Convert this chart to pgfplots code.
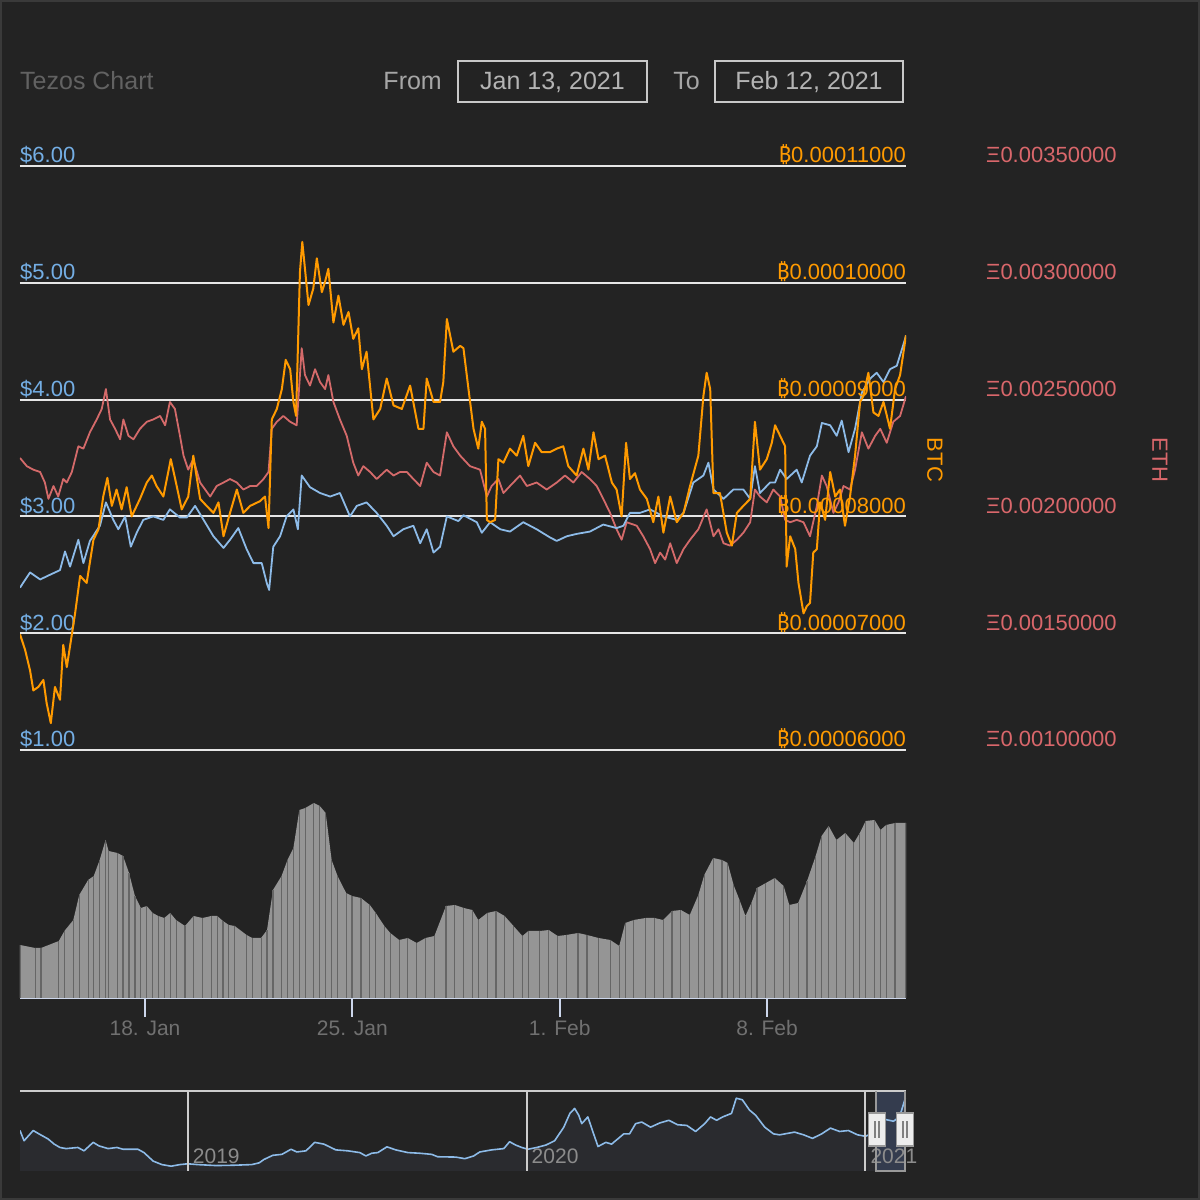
\documentclass[border=0pt]{standalone}
\usepackage{pgfplots}
\pgfplotsset{compat=1.18}
\usepackage{pgfplotstable}
\usepackage{fontspec}
\setmainfont{Liberation Sans}
\newfontfamily\btcfont{Noto Sans}
\definecolor{bg}{HTML}{232323}
\definecolor{framec}{HTML}{3A3A3A}
\definecolor{gridc}{HTML}{E6E6E6}
\definecolor{usdline}{HTML}{8DBBE8}
\definecolor{usdlab}{HTML}{74AEE4}
\definecolor{btcc}{HTML}{FF9A00}
\definecolor{ethline}{HTML}{D46A6A}
\definecolor{ethlab}{HTML}{D9676B}
\definecolor{volc}{HTML}{959595}
\definecolor{volstripe}{HTML}{666666}
\definecolor{axisc}{HTML}{CCD6EB}
\definecolor{labgray}{HTML}{707070}
\definecolor{titlegray}{HTML}{626262}
\definecolor{fromgray}{HTML}{A6A6A6}
\definecolor{dategray}{HTML}{B4B4B4}
\definecolor{boxc}{HTML}{C8C8C8}
\definecolor{navfill}{HTML}{2A2B2F}
\definecolor{navsel}{HTML}{343C4E}
\definecolor{navout}{HTML}{CCCCCC}
\definecolor{navyear}{HTML}{8C8C8C}
\newcommand\fa{\fontsize{21}{25}\selectfont}
\newcommand\fb{\fontsize{25}{30}\selectfont}
\newcommand\fc{\fontsize{22}{26}\selectfont}

% USD price (x = day of January 2021, Feb 1 = 32)
\pgfplotstableread{
day usd
13.78 2.39
14.12 2.52
14.46 2.46
14.79 2.50
15.13 2.54
15.30 2.70
15.47 2.57
15.75 2.80
15.92 2.60
16.14 2.79
16.48 2.92
16.68 3.12
16.93 2.97
17.10 2.89
17.33 3.00
17.52 2.74
17.72 2.86
17.94 2.97
18.28 3.00
18.62 2.97
18.84 3.06
19.18 2.99
19.41 2.99
19.69 3.09
19.86 3.02
20.31 2.83
20.65 2.73
20.87 2.80
21.15 2.90
21.43 2.72
21.66 2.60
21.94 2.60
22.11 2.43
22.19 2.37
22.33 2.74
22.56 2.83
22.78 3.00
23.01 3.06
23.16 2.89
23.29 3.35
23.57 3.25
23.91 3.20
24.25 3.17
24.58 3.20
24.92 3.00
25.15 3.09
25.48 3.12
25.82 3.03
26.16 2.92
26.39 2.83
26.72 2.89
27.06 2.92
27.29 2.77
27.51 2.89
27.74 2.69
27.96 2.74
28.19 3.00
28.58 2.96
28.75 3.01
29.20 2.95
29.37 2.86
29.65 2.95
29.99 2.89
30.32 2.87
30.77 2.95
31.22 2.89
31.67 2.82
31.90 2.79
32.24 2.83
32.57 2.85
33.02 2.87
33.47 2.93
33.92 2.90
34.15 2.92
34.37 3.03
34.71 3.03
35.05 3.06
35.50 3.00
35.95 2.97
36.18 3.03
36.51 3.29
36.85 3.35
37.02 3.46
37.19 3.23
37.53 3.15
37.86 3.23
38.20 3.23
38.43 3.15
38.59 3.43
38.76 3.20
39.10 3.29
39.27 3.29
39.44 3.40
39.66 3.32
40.00 3.40
40.17 3.29
40.45 3.52
40.68 3.60
40.85 3.80
41.13 3.78
41.35 3.69
41.52 3.82
41.75 3.55
41.97 3.75
42.20 4.06
42.48 4.18
42.70 4.23
42.93 4.15
43.15 4.26
43.38 4.29
43.66 4.52
43.69 4.55
}\usdtab

% BTC price, in units of 1e-5 BTC
\pgfplotstableread{
day btc
13.78 6.99
13.95 6.86
14.12 6.68
14.23 6.51
14.40 6.54
14.57 6.60
14.68 6.40
14.82 6.23
14.96 6.54
15.13 6.43
15.24 6.90
15.36 6.71
15.47 6.89
15.64 7.17
15.81 7.49
16.03 7.43
16.26 7.80
16.43 7.89
16.59 8.17
16.73 8.33
16.88 8.09
17.04 8.23
17.21 8.06
17.38 8.25
17.55 8.00
17.83 8.15
18.06 8.29
18.23 8.35
18.39 8.26
18.62 8.17
18.87 8.49
19.01 8.33
19.24 8.06
19.46 8.17
19.63 8.52
19.86 8.15
20.08 8.09
20.31 8.03
20.48 8.12
20.65 7.83
20.87 8.03
21.10 8.23
21.32 8.03
21.55 8.09
21.88 8.13
22.05 8.17
22.17 7.90
22.28 8.83
22.45 8.92
22.62 9.09
22.75 9.34
22.90 9.26
23.01 8.98
23.10 8.86
23.23 10.09
23.31 10.35
23.40 10.12
23.52 9.81
23.68 9.95
23.80 10.21
23.97 9.92
24.08 10.01
24.19 10.12
24.36 9.66
24.53 9.89
24.70 9.64
24.87 9.75
25.03 9.52
25.20 9.61
25.32 9.26
25.48 9.41
25.71 8.83
25.94 8.92
26.16 9.18
26.39 8.95
26.67 8.92
26.95 9.12
27.23 8.75
27.40 8.75
27.51 9.18
27.74 8.98
27.96 8.98
28.07 9.15
28.19 9.69
28.41 9.41
28.64 9.46
28.75 9.44
28.92 9.09
29.09 8.75
29.25 8.58
29.37 8.81
29.48 8.75
29.54 7.97
29.65 7.95
29.82 7.97
29.93 8.49
30.10 8.46
30.32 8.58
30.55 8.52
30.77 8.69
30.94 8.43
31.17 8.63
31.39 8.55
31.67 8.55
31.90 8.58
32.12 8.60
32.29 8.43
32.57 8.35
32.80 8.58
32.97 8.40
33.14 8.72
33.31 8.49
33.53 8.52
33.76 8.29
33.92 8.23
34.09 8.00
34.24 8.63
34.37 8.32
34.54 8.37
34.71 8.23
34.94 8.15
35.16 7.95
35.33 8.17
35.50 7.86
35.73 8.17
35.95 7.95
36.18 8.03
36.40 8.26
36.68 8.52
36.85 9.03
36.96 9.23
37.08 9.09
37.19 8.20
37.41 8.20
37.64 7.86
37.81 7.75
37.98 8.03
38.20 8.09
38.43 8.15
38.59 8.81
38.76 8.40
38.99 8.49
39.16 8.63
39.27 8.78
39.44 8.69
39.61 8.60
39.66 7.57
39.78 7.83
39.95 7.72
40.06 7.43
40.23 7.17
40.34 7.23
40.45 7.26
40.56 7.69
40.68 7.72
40.79 8.12
40.96 7.97
41.13 8.38
41.30 8.17
41.46 8.23
41.63 7.92
41.80 8.17
41.97 8.52
42.14 8.98
42.25 9.03
42.42 9.23
42.59 8.89
42.76 8.86
42.93 8.98
43.15 8.75
43.32 9.09
43.49 9.21
43.69 9.55
}\btctab

% ETH price, in units of 1e-3 ETH
\pgfplotstableread{
day eth
13.78 2.250
14.01 2.215
14.23 2.200
14.46 2.190
14.62 2.145
14.74 2.075
14.91 2.130
15.07 2.085
15.24 2.160
15.36 2.145
15.53 2.190
15.75 2.300
15.92 2.290
16.14 2.360
16.37 2.415
16.54 2.460
16.68 2.545
16.82 2.415
16.99 2.375
17.16 2.330
17.27 2.415
17.44 2.345
17.61 2.330
17.83 2.375
18.06 2.405
18.28 2.415
18.51 2.430
18.68 2.390
18.84 2.490
19.01 2.460
19.18 2.345
19.30 2.260
19.46 2.200
19.63 2.245
19.86 2.145
20.03 2.115
20.20 2.085
20.42 2.130
20.65 2.145
20.87 2.160
21.10 2.145
21.32 2.115
21.55 2.130
21.77 2.130
22.00 2.160
22.17 2.190
22.28 2.375
22.45 2.405
22.67 2.430
22.90 2.405
23.12 2.390
23.29 2.720
23.40 2.605
23.57 2.560
23.74 2.630
23.91 2.575
24.08 2.545
24.19 2.605
24.36 2.490
24.58 2.415
24.81 2.345
25.03 2.230
25.20 2.175
25.37 2.215
25.60 2.190
25.82 2.160
26.16 2.200
26.39 2.175
26.61 2.190
26.84 2.190
27.06 2.160
27.29 2.130
27.51 2.230
27.74 2.190
27.96 2.175
28.19 2.360
28.41 2.300
28.64 2.260
28.97 2.215
29.31 2.200
29.42 2.145
29.54 2.085
29.70 2.130
29.93 2.160
30.10 2.100
30.32 2.130
30.66 2.175
30.89 2.130
31.22 2.145
31.56 2.115
31.90 2.145
32.18 2.175
32.46 2.145
32.74 2.190
33.02 2.160
33.25 2.130
33.47 2.075
33.70 2.015
33.92 1.945
34.09 1.900
34.26 1.975
34.60 1.960
34.82 1.915
35.05 1.860
35.22 1.800
35.39 1.845
35.56 1.815
35.73 1.885
35.95 1.800
36.18 1.860
36.40 1.900
36.68 1.945
36.96 2.030
37.19 1.915
37.36 1.945
37.53 1.885
37.75 1.875
37.98 1.900
38.20 1.930
38.43 1.975
38.59 2.115
38.76 2.085
38.99 2.060
39.21 2.115
39.44 2.085
39.61 1.985
39.78 1.975
40.00 1.985
40.23 1.975
40.45 1.915
40.68 2.045
40.85 2.175
41.01 2.130
41.24 2.015
41.41 2.060
41.58 2.130
41.80 2.115
41.97 2.200
42.20 2.360
42.42 2.290
42.65 2.345
42.82 2.375
43.04 2.315
43.26 2.405
43.49 2.430
43.69 2.515
}\ethtab

% volume (arbitrary units)
\pgfplotstableread{
day vol
13.78 53
14.29 50
14.49 50
15.09 57
15.28 67
15.58 78
15.78 103
16.08 118
16.27 122
16.47 138
16.67 158
16.77 147
17.07 145
17.26 142
17.46 125
17.66 102
17.86 90
18.06 92
18.26 85
18.45 82
18.65 80
18.85 85
19.05 78
19.35 72
19.64 82
19.94 80
20.24 82
20.44 82
20.63 77
20.83 73
21.03 72
21.43 63
21.62 60
21.92 60
22.12 68
22.32 108
22.61 122
22.81 138
23.01 150
23.21 188
23.41 190
23.70 195
23.90 192
24.10 185
24.30 138
24.50 122
24.79 105
24.99 102
25.29 100
25.59 93
25.79 85
26.08 72
26.28 65
26.58 58
26.87 60
27.17 55
27.47 60
27.77 62
28.16 92
28.46 93
28.76 90
29.05 88
29.25 78
29.55 85
29.85 87
30.14 82
30.44 72
30.74 62
30.94 67
31.33 67
31.63 68
31.93 62
32.22 63
32.62 65
32.92 63
33.31 60
33.71 58
34.01 52
34.21 75
34.50 78
34.90 80
35.20 80
35.49 78
35.79 87
36.09 88
36.39 83
36.68 103
36.88 123
37.18 140
37.48 138
37.67 135
37.87 113
38.07 98
38.27 82
38.47 95
38.66 110
38.96 115
39.26 120
39.56 112
39.75 93
40.05 95
40.35 117
40.64 142
40.84 162
41.08 172
41.34 158
41.64 165
41.93 155
42.13 165
42.33 177
42.63 178
42.83 168
43.02 173
43.32 175
43.69 175
}\voltab

% navigator: USD price, x = decimal year
\pgfplotstableread{
yr usd
2018.505 2.53
2018.517 1.89
2018.544 2.53
2018.561 2.32
2018.588 2.00
2018.606 1.68
2018.623 1.47
2018.641 1.40
2018.676 1.47
2018.694 1.26
2018.721 1.79
2018.738 1.57
2018.765 1.40
2018.791 1.47
2018.809 1.36
2018.853 1.36
2018.871 1.15
2018.898 0.62
2018.924 0.40
2018.951 0.30
2018.977 0.40
2019.000 0.45
2019.030 0.40
2019.083 0.34
2019.136 0.36
2019.189 0.40
2019.211 0.51
2019.225 0.72
2019.251 0.98
2019.278 1.04
2019.305 1.36
2019.322 1.19
2019.349 1.26
2019.375 1.79
2019.402 1.68
2019.437 1.32
2019.473 1.26
2019.508 1.15
2019.526 0.94
2019.543 1.11
2019.561 1.15
2019.588 1.51
2019.614 1.32
2019.650 1.15
2019.685 1.11
2019.720 1.04
2019.738 0.89
2019.791 0.87
2019.818 0.77
2019.844 0.94
2019.862 1.19
2019.897 1.32
2019.933 1.40
2019.950 1.83
2019.968 1.62
2019.986 1.47
2020.004 1.36
2020.030 1.47
2020.057 1.62
2020.083 1.89
2020.110 2.74
2020.128 3.60
2020.142 3.91
2020.154 3.49
2020.163 2.96
2020.181 3.38
2020.198 2.32
2020.211 1.53
2020.234 1.79
2020.251 1.68
2020.269 2.00
2020.287 2.32
2020.304 2.32
2020.322 2.96
2020.340 3.06
2020.366 2.74
2020.393 3.00
2020.420 3.17
2020.446 2.89
2020.473 2.85
2020.499 2.47
2020.526 2.96
2020.543 3.38
2020.561 3.17
2020.579 3.38
2020.605 3.60
2020.619 4.55
2020.637 4.45
2020.658 3.81
2020.676 3.49
2020.703 2.74
2020.729 2.32
2020.747 2.26
2020.791 2.43
2020.818 2.26
2020.844 2.04
2020.871 2.32
2020.897 2.68
2020.924 2.47
2020.950 2.53
2020.977 2.26
2021.000 2.17
2021.030 2.43
2021.057 3.23
2021.083 3.11
2021.101 3.38
2021.118 4.55
}\navtab

\pgfplotsset{
  pricebase/.style={
    scale only axis, width=886pt, height=584pt, at={(20pt,450pt)}, anchor=south west,
    xmin=13.78, xmax=43.69, xtick=\empty,
    axis line style={draw=none}, major tick length=0pt, tick style={draw=none},
  },
  every axis plot/.append style={line join=round},
}

\begin{document}
\begin{tikzpicture}
\begin{scope}[x=1pt,y=1pt]
\useasboundingbox (0,0) rectangle (1200,1200);
\fill[bg] (0,0) rectangle (1200,1200);
\draw[framec, line width=2pt] (1,1) rectangle (1199,1199);

% header
\node[anchor=base west, text=titlegray, font=\fb, inner sep=0] at (20,1110) {Tezos Chart};
\node[anchor=base east, text=fromgray, font=\fb, inner sep=0] at (442,1110) {From};
\draw[boxc, line width=2pt] (458,1098) rectangle (647,1139);
\node[anchor=base, text=dategray, font=\fb, inner sep=0] at (552.5,1110) {Jan 13, 2021};
\node[anchor=base east, text=fromgray, font=\fb, inner sep=0] at (700,1110) {To};
\draw[boxc, line width=2pt] (715,1098) rectangle (903,1139);
\node[anchor=base, text=dategray, font=\fb, inner sep=0] at (809,1110) {Feb 12, 2021};
\end{scope}

% ETH axis (carries the grid)
\begin{axis}[pricebase, ymin=1, ymax=3.5,
  ytick={1,1.5,2,2.5,3,3.5},
  yticklabels={Ξ0.00100000,Ξ0.00150000,Ξ0.00200000,Ξ0.00250000,Ξ0.00300000,Ξ0.00350000},
  yticklabel pos=right,
  yticklabel style={anchor=base west, inner sep=0pt, xshift=80pt, yshift=3pt, text=ethlab, font=\fc},
  ymajorgrids, grid style={draw=gridc, line width=2pt},
]
\addplot[ethline, line width=1.8pt] table[x=day, y=eth]{\ethtab};
\end{axis}

% USD axis
\begin{axis}[pricebase, ymin=1, ymax=6,
  ytick={1,2,3,4,5,6},
  yticklabels={\$1.00,\$2.00,\$3.00,\$4.00,\$5.00,\$6.00},
  yticklabel pos=left,
  yticklabel style={anchor=base west, inner sep=0pt, yshift=3pt, text=usdlab, font=\fc},
]
\addplot[usdline, line width=1.8pt] table[x=day, y=usd]{\usdtab};
\end{axis}

% BTC axis
\begin{axis}[pricebase, ymin=6, ymax=11,
  ytick={6,7,8,9,10,11},
  yticklabels={{\btcfont ₿}0.00006000,{\btcfont ₿}0.00007000,{\btcfont ₿}0.00008000,{\btcfont ₿}0.00009000,{\btcfont ₿}0.00010000,{\btcfont ₿}0.00011000},
  yticklabel pos=right,
  yticklabel style={anchor=base east, inner sep=0pt, yshift=3pt, text=btcc, font=\fc},
]
\addplot[btcc, line width=2pt] table[x=day, y=btc]{\btctab};
\end{axis}

\node[rotate=-90, text=btcc, font=\fc] at (935pt,740pt) {BTC};
\node[rotate=-90, text=ethlab, font=\fc] at (1160pt,740pt) {ETH};

% volume
\begin{axis}[scale only axis, width=886pt, height=200pt, at={(20pt,202pt)}, anchor=south west,
  xmin=13.78, xmax=43.69, ymin=0, ymax=200,
  axis y line=none, axis x line=bottom,
  x axis line style={draw=axisc, line width=2pt, -},
  xtick={18,25,32,39}, xticklabels={18. Jan,25. Jan,1. Feb,8. Feb},
  major tick length=19pt, tick align=outside,
  xtick style={draw=axisc, line width=2pt},
  xticklabel style={text=labgray, font=\fa, inner sep=0pt, anchor=base, yshift=-19pt},
]
\addplot[fill=volc, draw=none] table[x=day, y=vol]{\voltab} \closedcycle;
\addplot[ycomb, draw=volstripe, line width=1.2pt] table[x=day, y=vol]{\voltab};
\end{axis}

% navigator
\begin{axis}[scale only axis, width=886pt, height=80pt, at={(20pt,29pt)}, anchor=south west,
  xmin=2018.505, xmax=2021.120, ymin=0, ymax=5.0,
  axis line style={draw=none}, ytick=\empty, major tick length=0pt,
  xtick={2019,2020,2021}, xticklabels={2019,2020,2021},
  xmajorgrids, grid style={draw=navout, line width=2pt},
  xticklabel style={anchor=base west, inner sep=0pt, xshift=5pt, yshift=7pt, text=navyear, font=\fa},
  axis on top,
]
\addplot[fill=navfill, draw=none] table[x=yr, y=usd]{\navtab} \closedcycle;
\fill[navsel] (axis cs:2021.033,0) rectangle (axis cs:2021.117,5.0);
\addplot[usdline, line width=1.6pt] table[x=yr, y=usd]{\navtab};
\end{axis}

% navigator outline and handles
\begin{scope}[x=1pt,y=1pt]
\draw[navout, line width=2pt] (20,109) -- (906,109);
\draw[gray!80, line width=2pt] (876.3,109) -- (876.3,29) -- (905.3,29) -- (905.3,109);
\foreach \hx in {877,905}{
  \draw[fill=white!93!black, draw=gray!80, line width=1.5pt] ({\hx-8.5},54) rectangle ({\hx+8.5},87);
  \draw[gray, line width=1.2pt] ({\hx-2},62) -- ({\hx-2},79) ({\hx+2},62) -- ({\hx+2},79);
}
\end{scope}
\end{tikzpicture}
\end{document}
